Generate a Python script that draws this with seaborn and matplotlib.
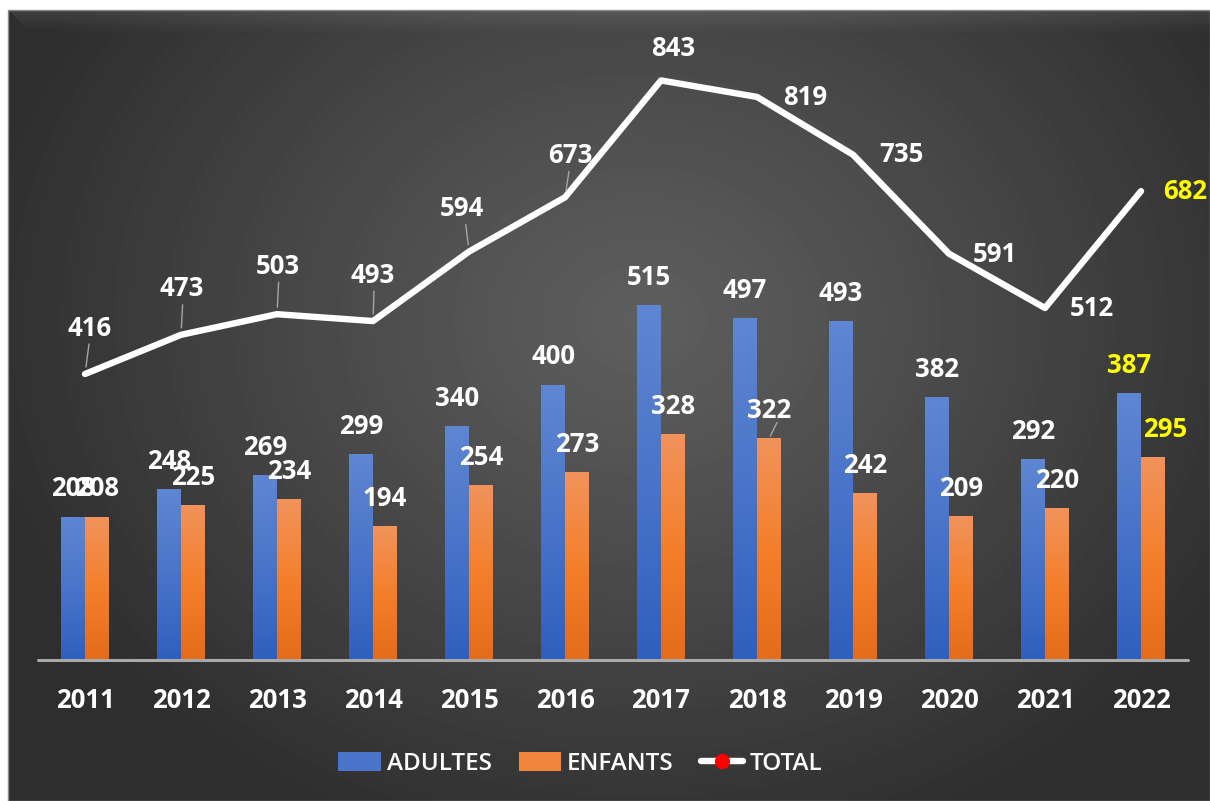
import numpy as np
import pandas as pd
import matplotlib
matplotlib.use("Agg")
import matplotlib.pyplot as plt
import seaborn as sns
from matplotlib.colors import LinearSegmentedColormap
from matplotlib.patches import Patch, Rectangle
from matplotlib.lines import Line2D

# ---- data ----
years = ["2011", "2012", "2013", "2014", "2015", "2016",
         "2017", "2018", "2019", "2020", "2021", "2022"]
adultes = [208, 248, 269, 299, 340, 400, 515, 497, 493, 382, 292, 387]
enfants = [208, 225, 234, 194, 254, 273, 328, 322, 242, 209, 220, 295]
total = [416, 473, 503, 493, 594, 673, 843, 819, 735, 591, 512, 682]

# label offsets for the TOTAL line (pixels) and which ones get a leader line
total_offsets = [(5, 46), (1, 46), (1, 48), (0, 46), (-7, 43), (5, 42),
                 (12, 32), (48, -1), (48, 0), (46, -1), (47, 0), (44, 0)]
total_leader = [True, True, True, True, True, True,
                False, False, False, False, False, False]

df = pd.DataFrame({
    "annee": years * 2,
    "valeur": adultes + enfants,
    "serie": ["ADULTES"] * len(years) + ["ENFANTS"] * len(years),
})

sns.set_theme(style="white")
plt.rcParams["font.family"] = ["Open Sans", "DejaVu Sans"]
FS = 18.5

W, H = 1210, 801
fig = plt.figure(figsize=(W / 100, H / 100), dpi=100)
fig.patch.set_facecolor("white")

# ---- background panel (radial grey gradient) ----
bg = fig.add_axes([0, 0, 1, 1])
bg.set_xlim(0, W)
bg.set_ylim(H, 0)
bg.axis("off")
xx, yy = np.meshgrid(np.arange(8, W), np.arange(10, H))
r = np.sqrt(((xx - 640) / 680.0) ** 2 + ((yy - 320) / 560.0) ** 2)
v = 0.37 - 0.19 * np.clip(r, 0, 1) ** 1.1
# light bevel along the top edge
top = np.clip(1 - (yy - 10) / 22.0, 0, 1)
v = v + 0.07 * top * (xx - 8 > (yy - 10))
bg.imshow(v, extent=(8, W, H, 10), cmap="gray", vmin=0, vmax=1,
          aspect="auto", interpolation="bilinear")
bg.add_patch(Rectangle((8, 10), W - 8, H - 10, fill=False,
                       edgecolor="#8a8a8a", lw=1))

# ---- main chart ----
ax = fig.add_axes([0, 0, 1, 1])
ax.patch.set_alpha(0)

sns.barplot(data=df, x="annee", y="valeur", hue="serie",
            palette={"ADULTES": "#4472c4", "ENFANTS": "#ed7d31"},
            width=0.5, saturation=1, legend=False, ax=ax, zorder=2)

blue_cmap = LinearSegmentedColormap.from_list("b", ["#2f5fbd", "#4a74c9", "#5e86d2"])
orange_cmap = LinearSegmentedColormap.from_list("o", ["#e46c1a", "#f47f2b", "#f1935c"])
grad = np.linspace(0, 1, 256).reshape(-1, 1)
bars = list(ax.patches)
for i, p in enumerate(bars):
    x0, w, h = p.get_x(), p.get_width(), p.get_height()
    cmap = blue_cmap if i < len(years) else orange_cmap
    ax.imshow(grad, extent=(x0, x0 + w, 0, h), origin="lower", cmap=cmap,
              aspect="auto", zorder=2)
    p.set_facecolor("none")
    p.set_edgecolor("none")

# bar labels
for i, p in enumerate(bars):
    val = int(round(p.get_height()))
    col = "#ffff00" if (i % len(years)) == len(years) - 1 else "white"
    dx = 0
    if i == 2 * len(years) - 1:
        dx = 12
    ax.annotate(str(val), (p.get_x() + p.get_width() / 2, p.get_height()),
                xytext=(dx, 28), textcoords="offset pixels",
                ha="center", va="center", fontsize=FS, fontweight="bold",
                color=col, zorder=6)
# leader line for the 2018 ENFANTS label
p322 = bars[len(years) + 7]
ax.annotate("", (p322.get_x() + p322.get_width() / 2, p322.get_height()),
            xytext=(8, 16), textcoords="offset pixels",
            arrowprops=dict(arrowstyle="-", color="#a6a6a6", lw=1,
                            shrinkA=0, shrinkB=2), zorder=5)

# TOTAL line
xs = np.arange(len(years))
ax.plot(xs, total, color="white", lw=4.6, solid_capstyle="round",
        solid_joinstyle="round", zorder=4)
for i, (val, off, lead) in enumerate(zip(total, total_offsets, total_leader)):
    col = "#ffff00" if i == len(years) - 1 else "white"
    ax.annotate(str(val), (xs[i], val), xytext=off, textcoords="offset pixels",
                ha="center", va="center", fontsize=FS, fontweight="bold",
                color=col, zorder=6)
    if lead:
        ax.annotate("", (xs[i], val), xytext=(off[0] * 0.6 + 1, off[1] - 16),
                    textcoords="offset pixels",
                    arrowprops=dict(arrowstyle="-", color="#a6a6a6", lw=1,
                                    shrinkA=0, shrinkB=5), zorder=5)

# baseline
ax.axhline(0, xmin=38 / W, xmax=1188 / W, color="#a9a9a9", lw=2.2, zorder=3)

# year labels
for i, y in enumerate(years):
    ax.text(i, (H - 700) / H, y, transform=ax.get_xaxis_transform(),
            ha="center", va="center", fontsize=FS, fontweight="bold",
            color="white")

# scale: 96 px per category, 0.6875 px per unit, baseline at y=660 px
ax.set_xlim(-85 / 96, 11 + (W - 1141) / 96)
ax.set_ylim(-(H - 660) / 0.6875, 660 / 0.6875)
ax.axis("off")

# legend
handles = [
    Patch(facecolor="#4a74c9", edgecolor="none"),
    Patch(facecolor="#f1853c", edgecolor="none"),
    Line2D([0], [0], color="white", lw=4.6, solid_capstyle="round",
           marker="o", markersize=10, markerfacecolor="red",
           markeredgecolor="red"),
]
fig.legend(handles, ["ADULTES", "ENFANTS", "TOTAL"], loc="center",
           bbox_to_anchor=(580 / W, (H - 764) / H), ncol=3, frameon=False,
           prop={"size": 17.5, "weight": "semibold"}, labelcolor="white",
           handlelength=1.75, handleheight=0.8, handletextpad=0.25,
           columnspacing=1.1)

fig.savefig("out.png", dpi=100, facecolor="white")
